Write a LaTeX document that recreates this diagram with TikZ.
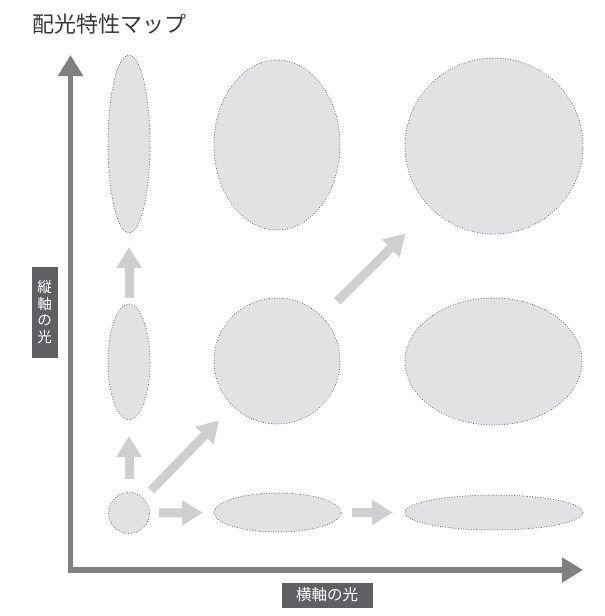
\documentclass[tikz,border=0pt]{standalone}
\usepackage{fontspec}
\usepackage{tikz}
\usetikzlibrary{shapes.geometric,arrows.meta,positioning}
\usepackage{xcolor}
\newfontfamily\jpfont{Noto Sans CJK JP}
\definecolor{SpotFill}{HTML}{E2E2E4}
\definecolor{SpotLine}{HTML}{58585A}
\definecolor{FlowGray}{HTML}{CFCFD1}
\definecolor{AxisGray}{HTML}{808083}
\definecolor{TagGray}{HTML}{606064}
\definecolor{TitleGray}{HTML}{383838}

\begin{document}
\begin{tikzpicture}[
  x=1pt, y=-1pt,
  font=\jpfont,
  spot/.style={ellipse, draw=SpotLine, fill=SpotFill, line width=1pt, line cap=round, dash pattern=on 0pt off 2.6pt, inner sep=0pt, outer sep=0pt},
  flow/.style={draw=FlowGray, line width=9pt, -{Triangle[length=21pt,width=24pt]}},
  axis/.style={draw=AxisGray, line width=5.5pt, line join=miter, {Triangle[length=21pt,width=24pt]}-{Triangle[length=21pt,width=24pt]}},
  tag/.style={fill=TagGray, text=white, inner sep=0pt, align=center}
]
\useasboundingbox (0,0) rectangle (605,616);

% title
\node[anchor=west, text=TitleGray, font=\jpfont\fontsize{22}{26}\selectfont] (title) at (29,24) {配光特性マップ};

% axes
\coordinate (o) at (70.5,570);
\coordinate (ytip) at (70.5,55);
\coordinate (xtip) at (583,570);
\draw[axis] (ytip) -- (o) -- (xtip);

% axis labels
\node[tag, minimum width=26pt, minimum height=91pt, font=\jpfont\fontsize{14.5}{16.5}\selectfont] (ylab) at (44.7,312) {縦\\軸\\の\\光};
\node[tag, minimum width=91pt, minimum height=25pt, font=\jpfont\fontsize{15.5}{18}\selectfont] (xlab) at (327,595) {横軸の光};

% top row
\node[spot, minimum width=42pt, minimum height=178pt] (c11) at (129,144) {};
\node[spot, minimum width=126pt, minimum height=170pt] (c12) at (277,145) {};
\node[spot, minimum width=178pt, minimum height=176pt] (c13) at (494,146) {};

% middle row
\node[spot, minimum width=42pt, minimum height=116pt] (c21) at (129,362) {};
\node[spot, minimum width=126pt, minimum height=126pt] (c22) at (277,361) {};
\node[spot, minimum width=177pt, minimum height=127pt] (c23) at (493.5,361.5) {};

% bottom row
\node[spot, minimum width=41pt, minimum height=41pt] (c31) at (129,513) {};
\node[spot, minimum width=127pt, minimum height=39pt] (c32) at (277.5,512.5) {};
\node[spot, minimum width=178pt, minimum height=35pt] (c33) at (494,512.5) {};

% arrows
\draw[flow, shorten <=14pt, shorten >=16pt] (c31) -- (c21);
\draw[flow, shorten <=6pt, shorten >=14pt] (c21) -- (c11);
\draw[flow, shorten <=9.5pt, shorten >=11pt] (c31) -- (c32);
\draw[flow, shorten <=10.5pt, shorten >=12pt] (c32) -- (c33);
\draw[flow, shorten <=11pt, shorten >=20pt] (c31) -- (c22);
\draw[flow, shorten <=22pt, shorten >=36pt] (c22) -- (c13);

\end{tikzpicture}
\end{document}
